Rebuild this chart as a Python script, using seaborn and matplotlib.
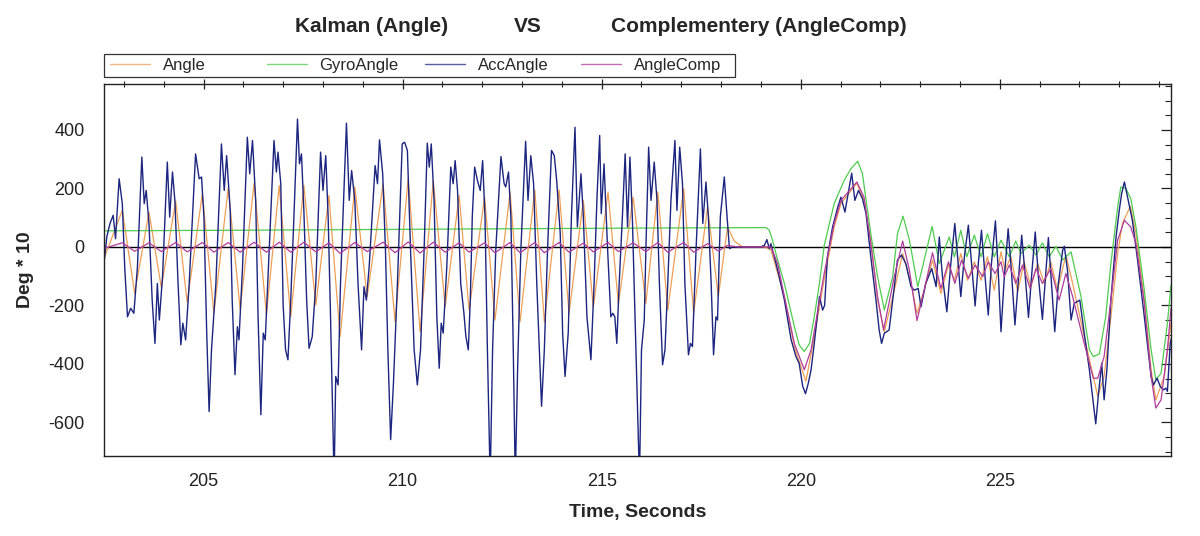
import matplotlib

matplotlib.use("Agg")
import matplotlib.pyplot as plt
import pandas as pd
import seaborn as sns
from matplotlib.lines import Line2D
from matplotlib.patches import Rectangle
from matplotlib.ticker import MultipleLocator

# Values (time in s, angle in deg * 10).
angle_t = [
    202.50, 202.96, 203.27, 203.63, 203.94, 204.30, 204.59, 204.97, 205.26, 205.62,
    205.92, 206.27, 206.58, 206.90, 207.19, 207.52, 207.82, 208.15, 208.43, 208.80,
    209.11, 209.51, 209.81, 210.14, 210.44, 210.77, 211.07, 211.42, 211.67, 212.06,
    212.32, 212.70, 212.95, 213.32, 213.56, 213.93, 214.18, 214.54, 214.79, 215.16,
    215.42, 215.79, 216.11, 216.41, 216.66, 217.06, 217.31, 217.66, 217.93, 218.16,
    218.33, 218.54, 219.09, 219.25, 219.59, 219.84, 220.13, 220.34, 220.59, 220.84,
    221.01, 221.41, 221.59, 221.76, 221.93, 222.10, 222.35, 222.56, 222.77, 222.92,
    223.10, 223.31, 223.52, 223.71, 223.86, 224.02, 224.19, 224.36, 224.53, 224.69,
    224.86, 225.03, 225.13, 225.28, 225.45, 225.61, 225.78, 225.95, 226.12, 226.28,
    226.45, 226.66, 226.83, 227.12, 227.46, 227.62, 227.79, 227.96, 228.08, 228.28,
    228.42, 228.63, 228.80, 228.92, 229.13, 229.30,
]
angle_v = [
    -40, 125, -159, 119, -139, 157, -190, 182, -227, 202,
    -214, 218, -231, 210, -239, 210, -199, 176, -307, 205,
    -170, 216, -256, 233, -290, 227, -205, 176, -216, 170,
    -250, 188, -256, 195, -256, 195, -227, 159, -207, 188,
    -195, 170, -193, 188, -216, 199, -227, 136, -170, 68,
    20, 0, 0, -10, -170, -341, -460, -307, -110, 68,
    148, 218, 159, 23, -182, -290, -148, -23, -125, -227,
    -148, -45, -159, -62, -114, -23, -114, -51, -114, -34,
    -148, -17, -80, -34, -153, -51, -136, -57, -125, -51,
    -148, -28, -125, -307, -511, -443, -239, -23, 80, 139,
    45, -182, -420, -523, -443, -261,
]

gyro_t = [
    202.50, 206.00, 210.00, 214.00, 217.00, 219.13, 219.21, 219.29, 219.42, 219.59,
    219.84, 219.96, 220.09, 220.22, 220.34, 220.47, 220.59, 220.84, 221.09, 221.26,
    221.43, 221.55, 221.76, 221.93, 222.10, 222.31, 222.43, 222.57, 222.73, 222.94,
    223.10, 223.30, 223.48, 223.73, 223.86, 224.02, 224.17, 224.36, 224.53, 224.69,
    224.86, 225.03, 225.24, 225.40, 225.53, 225.74, 225.91, 226.07, 226.24, 226.41,
    226.58, 226.79, 227.04, 227.25, 227.35, 227.50, 227.66, 227.79, 227.96, 228.04,
    228.17, 228.29, 228.42, 228.63, 228.80, 228.92, 229.05, 229.21, 229.30,
]
gyro_v = [
    55, 57, 60, 63, 65, 66, 57, 23, -45, -125,
    -273, -335, -358, -330, -239, -125, 5, 148, 227, 267,
    293, 250, 45, -102, -216, -102, 45, 105, 23, -136,
    -45, 70, -57, 34, -34, 57, -34, 40, -34, 45,
    -34, 23, -34, 20, -23, 6, -28, 14, -34, 2,
    -45, -17, -170, -352, -375, -366, -239, -57, 136, 205,
    199, 165, 68, -148, -352, -455, -432, -261, -130,
]

acc_t = [
    202.50, 202.57, 202.65, 202.73, 202.79, 202.88, 202.96, 203.02, 203.09, 203.17,
    203.25, 203.34, 203.45, 203.51, 203.56, 203.63, 203.71, 203.78, 203.84, 203.89,
    203.97, 204.09, 204.15, 204.22, 204.28, 204.36, 204.43, 204.48, 204.55, 204.64,
    204.80, 204.89, 204.95, 205.01, 205.08, 205.14, 205.20, 205.31, 205.45, 205.52,
    205.58, 205.67, 205.72, 205.79, 205.85, 205.89, 205.98, 206.10, 206.16, 206.23,
    206.31, 206.37, 206.44, 206.50, 206.55, 206.65, 206.77, 206.83, 206.87, 206.94,
    207.00, 207.06, 207.12, 207.19, 207.27, 207.36, 207.41, 207.46, 207.52, 207.59,
    207.65, 207.73, 207.82, 207.94, 208.00, 208.07, 208.13, 208.19, 208.28, 208.32,
    208.38, 208.44, 208.59, 208.66, 208.72, 208.80, 208.88, 208.97, 209.03, 209.09,
    209.16, 209.31, 209.37, 209.42, 209.50, 209.57, 209.63, 209.70, 209.77, 209.87,
    209.99, 210.05, 210.12, 210.20, 210.29, 210.37, 210.45, 210.54, 210.62, 210.67,
    210.72, 210.79, 210.86, 210.92, 210.97, 211.02, 211.11, 211.21, 211.27, 211.32,
    211.38, 211.46, 211.54, 211.59, 211.65, 211.70, 211.75, 211.81, 211.88, 211.95,
    212.01, 212.07, 212.13, 212.20, 212.26, 212.34, 212.47, 212.55, 212.59, 212.66,
    212.72, 212.78, 212.83, 212.89, 212.97, 213.09, 213.15, 213.22, 213.29, 213.37,
    213.49, 213.56, 213.64, 213.74, 213.81, 213.87, 213.96, 214.02, 214.08, 214.16,
    214.24, 214.33, 214.39, 214.48, 214.54, 214.63, 214.73, 214.81, 214.88, 214.95,
    214.99, 215.06, 215.15, 215.23, 215.28, 215.33, 215.38, 215.44, 215.52, 215.59,
    215.65, 215.71, 215.77, 215.86, 215.95, 216.00, 216.07, 216.11, 216.18, 216.24,
    216.32, 216.39, 216.45, 216.53, 216.59, 216.66, 216.74, 216.84, 216.89, 216.96,
    217.03, 217.09, 217.18, 217.23, 217.28, 217.37, 217.48, 217.54, 217.62, 217.68,
    217.75, 217.81, 217.87, 217.91, 217.98, 218.08, 218.15, 218.21, 218.29, 219.00,
    219.09, 219.15, 219.21, 219.25, 219.29, 219.38, 219.46, 219.59, 219.76, 219.88,
    219.96, 220.05, 220.12, 220.19, 220.26, 220.34, 220.47, 220.55, 220.60, 220.67,
    220.80, 220.93, 221.01, 221.11, 221.19, 221.28, 221.36, 221.45, 221.55, 221.64,
    221.76, 221.89, 221.97, 222.03, 222.10, 222.16, 222.22, 222.31, 222.43, 222.53,
    222.64, 222.77, 222.85, 222.95, 223.02, 223.14, 223.29, 223.40, 223.48, 223.56,
    223.67, 223.77, 223.87, 223.94, 224.02, 224.11, 224.21, 224.29, 224.38, 224.46,
    224.54, 224.63, 224.71, 224.79, 224.89, 224.96, 225.03, 225.11, 225.21, 225.29,
    225.38, 225.46, 225.55, 225.64, 225.72, 225.81, 225.89, 225.97, 226.07, 226.16,
    226.22, 226.31, 226.38, 226.47, 226.58, 226.62, 226.70, 226.79, 226.87, 227.01,
    227.12, 227.25, 227.33, 227.41, 227.48, 227.56, 227.62, 227.69, 227.79, 227.92,
    228.00, 228.06, 228.13, 228.21, 228.33, 228.46, 228.63, 228.80, 228.86, 228.95,
    229.03, 229.11, 229.17, 229.21, 229.28, 229.32,
]
acc_v = [
    -57, 34, 80, 108, 28, 233, 148, -68, -239, -210,
    -227, -68, 307, 148, 193, 80, -182, -330, -125, -250,
    -102, 290, 102, 256, 159, -125, -335, -261, -318, -125,
    318, 233, 239, 102, -295, -563, -352, -125, 352, 193,
    312, 125, -182, -437, -273, -318, -68, 375, 250, 364,
    159, -239, -574, -295, -318, -11, 364, 256, 324, 216,
    -200, -352, -386, -182, 102, 437, 284, 318, 125, -182,
    -347, -307, -125, 324, 193, 312, 102, -239, -800, -443,
    -472, -125, 423, 159, 261, 159, -125, -352, -136, -182,
    -68, 278, 216, 366, 250, -11, -352, -659, -466, -125,
    352, 358, 330, -11, -352, -472, -352, -11, 355, 273,
    352, 159, -239, -415, -261, -295, -68, 273, 216, 295,
    193, -125, -227, -307, -352, -182, 102, 273, 227, 193,
    295, 102, -352, -800, -352, -11, 309, 216, 205, 256,
    102, -352, -800, -409, -11, 361, 159, 312, 216, -125,
    -545, -352, -11, 330, 312, 227, 45, -295, -443, -295,
    102, 409, 68, 250, 102, -239, -386, -125, 159, 381,
    114, 284, -11, -239, -227, -239, -330, -125, 102, 318,
    68, 307, 102, -352, -800, -352, -250, -11, 341, 159,
    290, 159, -125, -403, -352, -125, 159, 364, 125, 341,
    216, -125, -369, -330, -341, -11, 335, 80, 222, 102,
    -125, -369, -239, -250, 102, 239, 102, -6, 0, 0,
    6, 25, -6, 11, -11, -57, -102, -182, -318, -375,
    -398, -477, -502, -466, -420, -330, -170, -216, -200, -34,
    68, 136, 170, 119, 182, 252, 159, 193, 165, 114,
    -34, -182, -284, -330, -295, -290, -284, -182, -45, -28,
    -57, -136, -148, -142, -205, -125, -74, -136, 34, -102,
    -222, -57, 80, -34, -170, -34, 74, -57, -202, -57,
    57, -102, -233, -57, 89, -80, -290, -110, 62, -80,
    -267, -125, 40, -102, -241, -80, 51, -102, -248, -80,
    32, -148, -290, -125, -11, 2, -80, -250, -193, -182,
    -295, -420, -511, -605, -500, -398, -523, -420, -182, 34,
    125, 182, 222, 170, 91, -45, -239, -443, -472, -449,
    -477, -489, -483, -494, -330, -307,
]

comp_t = [
    202.50, 202.96, 203.27, 203.63, 203.94, 204.30, 204.59, 204.97, 205.26, 205.62,
    205.92, 206.27, 206.58, 206.90, 207.19, 207.52, 207.82, 208.15, 208.43, 208.80,
    209.11, 209.51, 209.81, 210.14, 210.44, 210.77, 211.07, 211.42, 211.67, 212.06,
    212.32, 212.70, 212.95, 213.32, 213.56, 213.93, 214.18, 214.54, 214.79, 215.16,
    215.42, 215.79, 216.11, 216.41, 216.66, 217.06, 217.31, 217.66, 217.93, 218.16,
    218.40, 219.25, 219.42, 219.59, 219.84, 220.09, 220.26, 220.43, 220.59, 220.84,
    221.01, 221.41, 221.59, 221.76, 221.93, 222.08, 222.35, 222.56, 222.73, 222.92,
    223.10, 223.31, 223.52, 223.71, 223.87, 224.04, 224.21, 224.38, 224.57, 224.71,
    224.88, 225.03, 225.11, 225.24, 225.40, 225.57, 225.76, 225.91, 226.07, 226.28,
    226.49, 226.66, 226.83, 227.12, 227.35, 227.46, 227.62, 227.79, 227.96, 228.13,
    228.29, 228.42, 228.63, 228.80, 228.92, 229.05, 229.21, 229.30,
]
comp_v = [
    -5, 14, -15, 14, -16, 15, -17, 15, -18, 15,
    -18, 16, -18, 16, -18, 16, -17, 14, -22, 15,
    -16, 16, -20, 17, -21, 16, -18, 14, -18, 14,
    -20, 15, -20, 15, -20, 15, -18, 13, -17, 15,
    -16, 14, -16, 15, -18, 15, -18, 11, -14, 5,
    0, 0, -57, -170, -330, -420, -352, -216, -90, 80,
    159, 222, 170, 11, -170, -284, -102, 20, -80, -252,
    -148, -20, -142, -51, -125, -45, -108, -62, -102, -51,
    -91, -51, -102, -62, -125, -62, -142, -74, -125, -74,
    -182, -91, -170, -330, -449, -449, -375, -182, 23, 91,
    68, 11, -193, -443, -551, -523, -352, -210,
]

SERIES = [
    ("Angle", angle_t, angle_v, "#EE9F55", 0.9),
    ("GyroAngle", gyro_t, gyro_v, "#4FCB4F", 0.9),
    ("AccAngle", acc_t, acc_v, "#1C2580", 1.0),
    ("AngleComp", comp_t, comp_v, "#B03C9C", 0.9),
]
LEGEND_X_PX = [110, 267, 425, 581]

W, H = 1200, 536


def main() -> None:
    sns.set_theme(style="white")
    plt.rcParams.update(
        {
            "font.family": ["Liberation Sans", "DejaVu Sans"],
            "axes.unicode_minus": False,
            "axes.edgecolor": "#222222",
            "axes.linewidth": 1.0,
            "xtick.color": "#222222",
            "ytick.color": "#222222",
        }
    )

    fig = plt.figure(figsize=(W / 100, H / 100), dpi=100)
    ax = fig.add_axes([104 / W, 1 - 456 / H, 1067 / W, 372 / H])
    ax.axhline(0, color="black", linewidth=1.0, zorder=1)

    for name, t, v, color, lw in SERIES:
        frame = pd.DataFrame({"t": t, "v": v})
        sns.lineplot(
            data=frame, x="t", y="v", ax=ax, color=color, linewidth=lw,
            estimator=None, sort=False, legend=False, zorder=2,
        )

    ax.set_xlim(202.5, 229.3)
    ax.set_ylim(-715, 557)
    ax.xaxis.set_major_locator(MultipleLocator(5))
    ax.xaxis.set_minor_locator(MultipleLocator(1))
    ax.yaxis.set_major_locator(MultipleLocator(200))
    ax.yaxis.set_minor_locator(MultipleLocator(50))
    ax.tick_params(which="both", top=True, right=True, direction="in", labelsize=13)
    ax.tick_params(which="major", length=7, width=0.9)
    ax.tick_params(which="minor", length=4, width=0.8)
    ax.tick_params(axis="x", which="both", direction="inout", pad=9)
    ax.tick_params(axis="y", pad=14)
    ax.set_xlabel("Time, Seconds", fontsize=14, fontweight="bold", labelpad=10)
    ax.set_ylabel("Deg * 10", fontsize=14, fontweight="bold", labelpad=10)
    for side in ax.spines.values():
        side.set_visible(True)

    # title split in three pieces like the original logger output
    for text, xc in [("Kalman (Angle)", 372), ("VS", 528), ("Complementery (AngleComp)", 759)]:
        fig.text(xc / W, 1 - 27 / H, text, ha="center", va="center",
                 fontsize=15, fontweight="bold")

    # legend strip above the plot with evenly spaced entries
    fig.add_artist(
        Rectangle((104 / W, 1 - 77 / H), 631 / W, 23 / H, transform=fig.transFigure,
                  fill=False, edgecolor="#333333", linewidth=0.9)
    )
    for (name, _, _, color, _), x_px in zip(SERIES, LEGEND_X_PX):
        fig.legend(
            handles=[Line2D([0], [0], color=color, linewidth=1.0, alpha=0.75)],
            labels=[name],
            loc="center left",
            bbox_to_anchor=(x_px / W, 1 - 65.5 / H),
            frameon=False,
            fontsize=12,
            handlelength=2.4,
            handletextpad=0.75,
            borderpad=0,
            borderaxespad=0,
        )

    fig.savefig("out.png", dpi=100, facecolor="white")


if __name__ == "__main__":
    main()
